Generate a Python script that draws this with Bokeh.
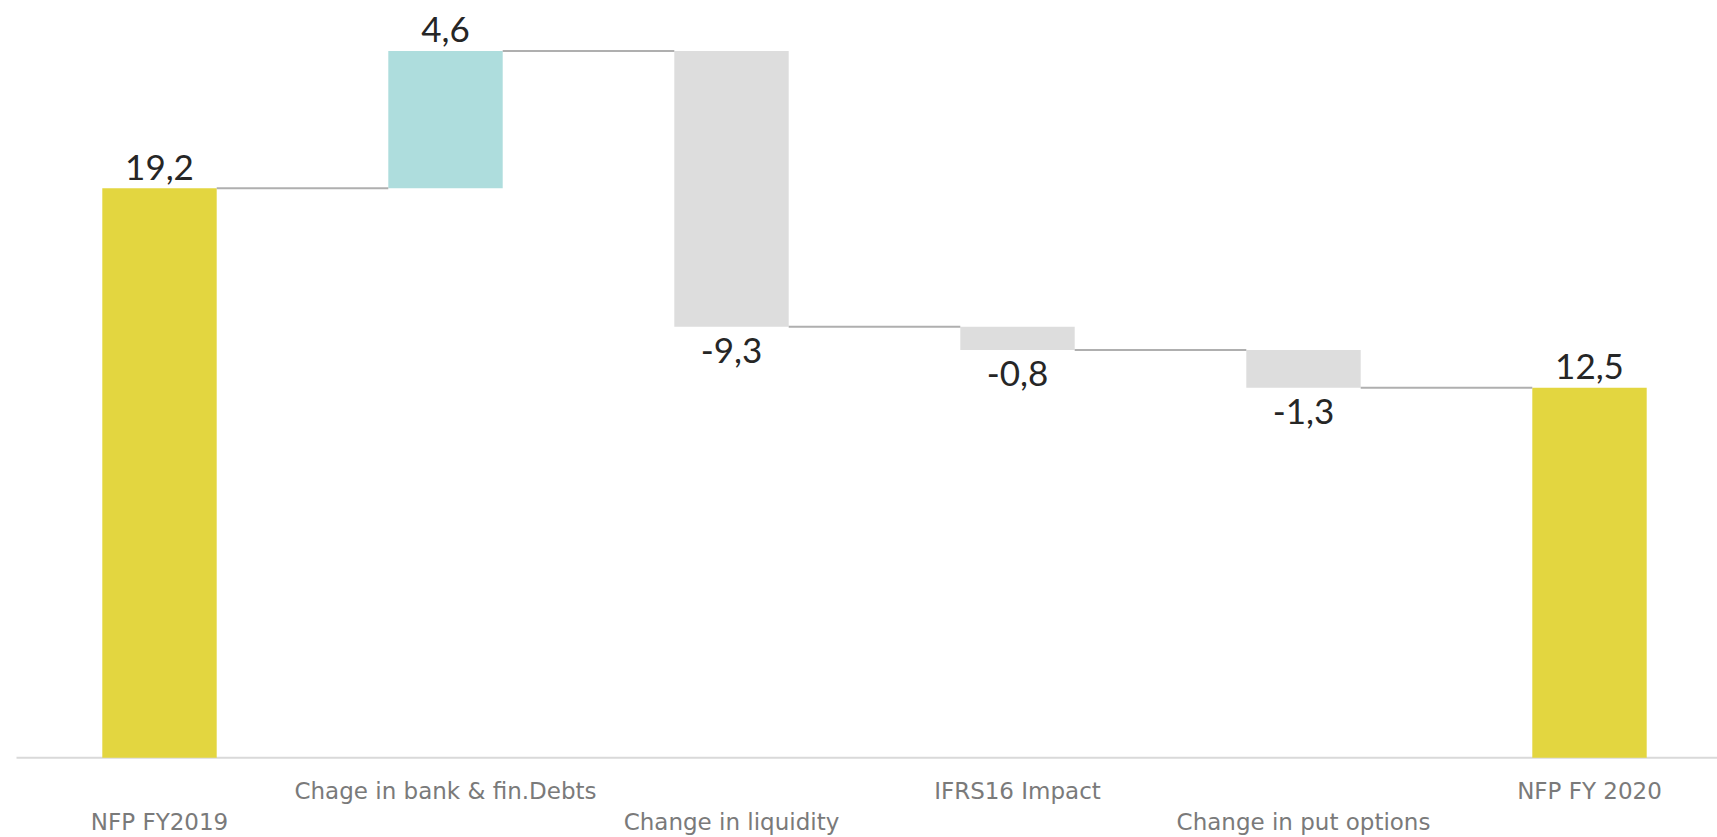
from bokeh.plotting import figure
from bokeh.models import ColumnDataSource, Range1d
from bokeh.core.properties import value
from bokeh.embed import file_html
from bokeh.resources import INLINE

# ---- data ----
categories = ["NFP FY2019", "Chage in bank & fin.Debts", "Change in liquidity",
              "IFRS16 Impact", "Change in put options", "NFP FY 2020"]
amounts = [19.24, 4.64, -9.32, -0.78, -1.28, 12.50]
kinds = ["total", "delta", "delta", "delta", "delta", "total"]
value_labels = ["19,2", "4,6", "-9,3", "-0,8", "-1,3", "12,5"]

# ---- waterfall geometry from the data ----
YELLOW = "#E3D640"
TEAL = "#AEDDDD"
GREY = "#DDDDDD"
BAR_W = 0.4

xs, bottoms, tops, colors = [], [], [], []
running = 0.0
levels = []
for i, (a, k) in enumerate(zip(amounts, kinds)):
    if k == "total":
        b, t = 0.0, a
        running = a
        colors.append(YELLOW)
    else:
        b, t = running, running + a
        running = running + a
        colors.append(TEAL if a > 0 else GREY)
    xs.append(i)
    bottoms.append(min(b, t))
    tops.append(max(b, t))
    levels.append(running)

bars = ColumnDataSource(dict(x=xs, bottom=bottoms, top=tops, color=colors))

# connectors between bars
cx0 = [i + BAR_W / 2 for i in range(len(categories) - 1)]
cx1 = [i + 1 - BAR_W / 2 for i in range(len(categories) - 1)]
cy = levels[:-1]

# value labels
lab_y, lab_off = [], []
for i, a in enumerate(amounts):
    if a >= 0:
        lab_y.append(tops[i]); lab_off.append(-21)
    else:
        lab_y.append(bottoms[i]); lab_off.append(24)
vlab = ColumnDataSource(dict(x=xs, y=lab_y, text=value_labels, yo=lab_off))

# category labels (staggered in two rows)
cat_off = [64 if i % 2 == 0 else 33 for i in range(len(categories))]
clab = ColumnDataSource(dict(x=xs, y=[0.0] * len(categories), text=categories, yo=cat_off))

W, H = 1717, 837
PX_X = 286.0
PX_Y = 29.6
x0 = -0.5 - 16 / PX_X
y_zero_px = 757.3
p = figure(width=W, height=H, output_backend="svg", toolbar_location=None,
           x_range=Range1d(x0, x0 + W / PX_X),
           y_range=Range1d(-(H - y_zero_px) / PX_Y, y_zero_px / PX_Y),
           x_axis_type=None, y_axis_type=None, min_border=0,
           outline_line_color=None, background_fill_color="white",
           border_fill_color="white")
p.grid.visible = False

# baseline axis line
p.segment(x0=[-0.5], y0=[0], x1=[x0 + W / PX_X], y1=[0], line_color="#D9D9D9", line_width=2)

p.vbar(x="x", bottom="bottom", top="top", width=BAR_W, fill_color="color",
       line_color=None, source=bars)

p.segment(x0=cx0, y0=cy, x1=cx1, y1=cy, line_color="#AFAFAF", line_width=2)

p.text(x="x", y="y", text="text", y_offset="yo", source=vlab,
       text_font=value("Lato"), text_font_size="35px", text_color="#262626",
       text_align="center", text_baseline="alphabetic")

p.text(x="x", y="y", text="text", y_offset="yo", source=clab,
       text_font=value("DejaVu Sans"), text_font_size="23px", text_color="#7A7A7A",
       text_align="center", text_baseline="alphabetic")

open("out.html", "w").write(file_html(p, INLINE))
